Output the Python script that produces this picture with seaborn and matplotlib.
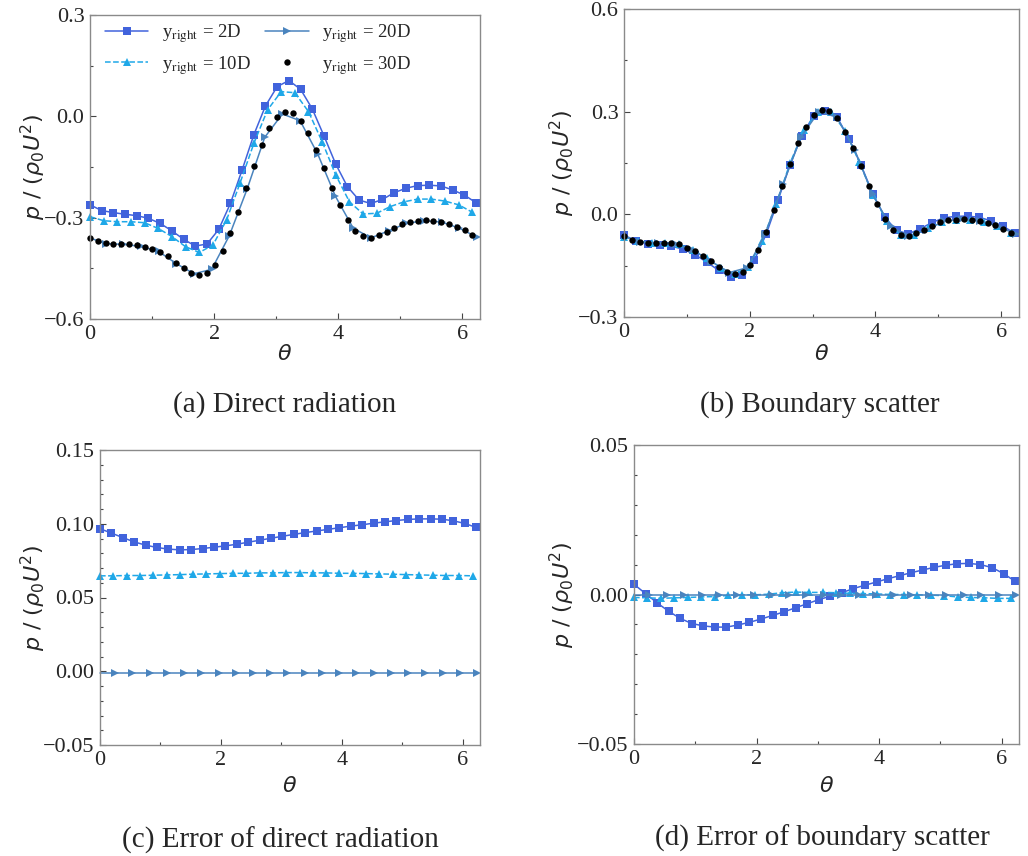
import numpy as np
import matplotlib
matplotlib.use("Agg")
import matplotlib.pyplot as plt
import seaborn as sns
from matplotlib.ticker import MultipleLocator, FuncFormatter
from matplotlib.font_manager import FontProperties

# ---------------------------------------------------------------- data
# angular sample positions of each far-field case (rad)
theta_2d = np.linspace(0.0, 6.22, 34)
theta_10d = np.linspace(0.0, 6.16, 29)
theta_20d = np.concatenate(([0.0], np.linspace(0.25, 6.235, 22)))
theta_30d = np.linspace(0.0, 6.16, 50)

labels = ["2D", "10D", "20D", "30D"]

# (a) direct radiation
a_2d = [-0.262, -0.279, -0.285, -0.290, -0.294, -0.302, -0.317, -0.339, -0.364, -0.384,
        -0.378, -0.335, -0.258, -0.159, -0.055, 0.031, 0.088, 0.106, 0.080, 0.022,
        -0.058, -0.141, -0.208, -0.248, -0.258, -0.246, -0.226, -0.213, -0.205, -0.204,
        -0.206, -0.218, -0.233, -0.256]
a_10d = [-0.297, -0.309, -0.312, -0.312, -0.315, -0.332, -0.356, -0.386, -0.403, -0.381,
         -0.307, -0.196, -0.080, 0.019, 0.073, 0.070, 0.014, -0.075, -0.174, -0.253,
         -0.289, -0.287, -0.267, -0.253, -0.245, -0.245, -0.251, -0.262, -0.284]
a_20d = [-0.360, -0.377, -0.379, -0.385, -0.400, -0.436, -0.466, -0.453, -0.353, -0.216,
         -0.062, 0.007, -0.013, -0.112, -0.237, -0.331, -0.360, -0.339, -0.317, -0.309,
         -0.313, -0.331, -0.358]
a_30d = [-0.359, -0.368, -0.376, -0.378, -0.378, -0.379, -0.381, -0.386, -0.394, -0.401,
         -0.414, -0.435, -0.448, -0.463, -0.470, -0.463, -0.440, -0.398, -0.344, -0.282,
         -0.213, -0.146, -0.085, -0.036, -0.003, 0.014, 0.009, -0.013, -0.048, -0.100,
         -0.154, -0.213, -0.262, -0.307, -0.339, -0.354, -0.359, -0.352, -0.341, -0.332,
         -0.320, -0.312, -0.309, -0.308, -0.309, -0.312, -0.319, -0.327, -0.337, -0.351]

# (b) boundary scatter
b_2d = [-0.061, -0.077, -0.086, -0.089, -0.093, -0.102, -0.118, -0.140, -0.164, -0.182,
        -0.177, -0.134, -0.058, 0.041, 0.144, 0.229, 0.288, 0.303, 0.283, 0.220,
        0.144, 0.060, -0.008, -0.047, -0.057, -0.042, -0.024, -0.010, -0.006, -0.005,
        -0.009, -0.019, -0.035, -0.056]
b_10d = [-0.065, -0.079, -0.083, -0.084, -0.088, -0.104, -0.129, -0.156, -0.175, -0.153,
         -0.078, 0.030, 0.149, 0.245, 0.299, 0.298, 0.243, 0.154, 0.057, -0.020,
         -0.061, -0.060, -0.039, -0.022, -0.017, -0.016, -0.021, -0.034, -0.055]
b_20d = [-0.064, -0.081, -0.083, -0.087, -0.105, -0.138, -0.170, -0.156, -0.058, 0.088,
         0.226, 0.300, 0.284, 0.188, 0.058, -0.035, -0.064, -0.045, -0.020, -0.015,
         -0.019, -0.035, -0.058]
b_30d = [-0.064, -0.074, -0.081, -0.083, -0.083, -0.083, -0.085, -0.088, -0.097, -0.107,
         -0.121, -0.137, -0.153, -0.168, -0.175, -0.168, -0.147, -0.105, -0.051, 0.012,
         0.082, 0.148, 0.208, 0.256, 0.290, 0.305, 0.303, 0.282, 0.242, 0.194,
         0.141, 0.083, 0.029, -0.013, -0.045, -0.061, -0.064, -0.056, -0.045, -0.033,
         -0.022, -0.017, -0.016, -0.015, -0.016, -0.019, -0.025, -0.032, -0.042, -0.054]

# (c) error of direct radiation
c_2d = [0.0966, 0.0937, 0.0906, 0.0877, 0.0855, 0.0839, 0.0828, 0.0823, 0.0825, 0.0832,
        0.0841, 0.0850, 0.0861, 0.0875, 0.0888, 0.0902, 0.0915, 0.0928, 0.0940, 0.0951,
        0.0962, 0.0973, 0.0984, 0.0993, 0.1004, 0.1013, 0.1022, 0.1029, 0.1033, 0.1033,
        0.1031, 0.1020, 0.1002, 0.0975]
c_10d = [0.0647, 0.0647, 0.0649, 0.0649, 0.0651, 0.0653, 0.0655, 0.0658, 0.0660, 0.0662,
         0.0664, 0.0664, 0.0667, 0.0667, 0.0669, 0.0669, 0.0667, 0.0667, 0.0664, 0.0664,
         0.0662, 0.0660, 0.0658, 0.0655, 0.0653, 0.0651, 0.0649, 0.0649, 0.0647]
c_20d = [-0.0010, -0.0010, -0.0010, -0.0010, -0.0010, -0.0010, -0.0010, -0.0010,
         -0.0010, -0.0010, -0.0010, -0.0010, -0.0010, -0.0010, -0.0010, -0.0010,
         -0.0010, -0.0010, -0.0010, -0.0010, -0.0010, -0.0010, -0.0010]

# (d) error of boundary scatter
d_2d = [0.0034, 0.0003, -0.0028, -0.0056, -0.0080, -0.0097, -0.0105, -0.0109, -0.0109,
        -0.0102, -0.0093, -0.0082, -0.0070, -0.0058, -0.0044, -0.0031, -0.0017, -0.0006,
        0.0006, 0.0020, 0.0031, 0.0042, 0.0053, 0.0063, 0.0073, 0.0082, 0.0091, 0.0098,
        0.0103, 0.0104, 0.0100, 0.0090, 0.0070, 0.0044]
d_10d = [-0.0010, -0.0011, -0.0013, -0.0011, -0.0010, -0.0008, -0.0007, -0.0003, -0.0001,
         -0.0001, 0.0001, 0.0006, 0.0008, 0.0007, 0.0007, 0.0006, 0.0004, 0.0003, 0.0002,
         0.0000, 0.0000, -0.0001, -0.0002, -0.0004, -0.0008, -0.0010, -0.0011, -0.0013,
         -0.0013]
d_20d = [0.0000, 0.0000, 0.0000, 0.0000, 0.0000, 0.0000, 0.0000, 0.0000, 0.0000, 0.0000,
         0.0000, 0.0000, 0.0000, 0.0000, 0.0000, 0.0000, 0.0000, 0.0000, 0.0000, 0.0000,
         0.0000, 0.0000, 0.0000]

# ---------------------------------------------------------------- style
sns.set_style("ticks")
plt.rcParams["font.family"] = ["Liberation Serif", "DejaVu Sans"]
plt.rcParams["axes.unicode_minus"] = True

C2D, C10D, C20D = "#4163DC", "#1FA8E8", "#4A84BE"
series_style = {
    "2D": dict(color=C2D, marker="s", linestyle="-", markersize=5.2),
    "10D": dict(color=C10D, marker="^", linestyle="--", markersize=5.6),
    "20D": dict(color=C20D, marker=">", linestyle="-", markersize=5.2,
                markevery=list(range(1, 23))),
    "30D": dict(color="black", marker="o", linestyle="none", markersize=4.6),
}
thetas = {"2D": theta_2d, "10D": theta_10d, "20D": theta_20d, "30D": theta_30d}

W, H = 1028, 856
fig = plt.figure(figsize=(W / 100, H / 100), dpi=100)


def add_panel(box, ylim, ymaj, ymin, yfmt, data, caption, cap_xy, ylab_x, xlab_y):
    left, top, right, bottom = box
    ax = fig.add_axes([left / W, 1 - bottom / H, (right - left) / W, (bottom - top) / H])
    for key, vals in data.items():
        st = dict(series_style[key])
        sns.lineplot(x=thetas[key][:len(vals)], y=vals, ax=ax, sort=False,
                     estimator=None, errorbar=None, linewidth=1.1,
                     markeredgewidth=0, clip_on=False, **st)
    ax.set_xlim(0, 2 * np.pi)
    ax.set_ylim(*ylim)
    ax.xaxis.set_major_locator(MultipleLocator(2))
    ax.xaxis.set_minor_locator(MultipleLocator(1))
    ax.yaxis.set_major_locator(MultipleLocator(ymaj))
    ax.yaxis.set_minor_locator(MultipleLocator(ymin))
    ax.xaxis.set_major_formatter(FuncFormatter(lambda v, p: f"{v:.0f}"))
    ax.yaxis.set_major_formatter(
        FuncFormatter(lambda v, p: (yfmt % v).replace("-", "\u2212")))
    ax.tick_params(which="both", direction="in", top=False, right=False,
                   labelsize=16, color="#444444", width=0.8, pad=4)
    ax.tick_params(which="major", length=4.5)
    ax.tick_params(which="minor", length=2.5)
    for sp in ax.spines.values():
        sp.set_color("#8a8a8a")
        sp.set_linewidth(1.0)
    ax.set_xlabel(r"$\theta$", fontsize=16, math_fontfamily="dejavusans")
    ax.xaxis.label.set_verticalalignment("center")
    ax.xaxis.set_label_coords(0.5, xlab_y)
    ax.set_ylabel(r"$p$ / ($\rho_0U^2$)", fontsize=16, family="DejaVu Sans",
                  math_fontfamily="dejavusans")
    ax.yaxis.label.set_verticalalignment("center")
    ax.yaxis.set_label_coords(ylab_x, 0.5)
    fig.text(cap_xy[0] / W, 1 - cap_xy[1] / H, caption, ha="center", va="center",
             fontsize=21, family="Liberation Serif")
    return ax


ax_a = add_panel((90, 15, 480, 319), (-0.6, 0.3), 0.3, 0.15, "%.1f",
                 {"2D": a_2d, "10D": a_10d, "20D": a_20d, "30D": a_30d},
                 "(a) Direct radiation", (285, 405), -0.146, -0.118)
ax_b = add_panel((624, 9, 1019, 317), (-0.3, 0.6), 0.3, 0.15, "%.1f",
                 {"2D": b_2d, "10D": b_10d, "20D": b_20d, "30D": b_30d},
                 "(b) Boundary scatter", (820, 405), -0.157, -0.125)
ax_c = add_panel((100, 450, 480, 745), (-0.05, 0.15), 0.05, 0.01, "%.2f",
                 {"2D": c_2d, "10D": c_10d, "20D": c_20d},
                 "(c) Error of direct radiation", (280, 840), -0.176, -0.142)
ax_d = add_panel((634, 445, 1019, 744), (-0.05, 0.05), 0.05, 0.01, "%.2f",
                 {"2D": d_2d, "10D": d_10d, "20D": d_20d},
                 "(d) Error of boundary scatter", (822, 838), -0.187, -0.144)

# legend of the far-field boundary position
handles = ax_a.get_lines()[:4]
leg_labels = [r"y$_{\mathrm{right}}$ = " + s for s in labels]
leg_font = FontProperties(family="Liberation Serif", size=13.5, math_fontfamily="stix")
ax_a.legend(handles, leg_labels, ncol=2, loc="upper left", bbox_to_anchor=(0.02, 1.0),
            frameon=False, prop=leg_font, handlelength=2.3, handletextpad=0.7,
            columnspacing=0.8, labelspacing=0.45, numpoints=1, borderaxespad=0.0)

fig.savefig("out.png", dpi=100)
